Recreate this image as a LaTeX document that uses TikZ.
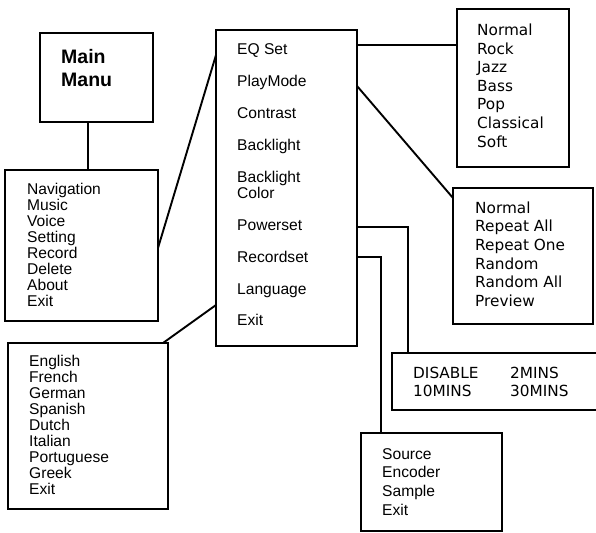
\documentclass[tikz,border=0pt]{standalone}
\usepackage{fontspec}
\setmainfont{Liberation Sans}
\newfontfamily\dvs{DejaVu Sans}
\usetikzlibrary{calc}
\begin{document}
\begin{tikzpicture}[x=1pt,y=-1pt,
  box/.style={draw, line width=1.9pt, rectangle, inner sep=0pt, outer sep=0pt, anchor=north west},
  ar/.style={font=\fontsize{15.6}{16}\selectfont, anchor=base west, inner sep=0pt},
  vd/.style={font=\dvs\fontsize{15.3}{18}\selectfont, anchor=base west, inner sep=0pt},
  wire/.style={line width=1.9pt}]
\useasboundingbox (0,0) rectangle (596,532);
\clip (0,0) rectangle (596,532);

% boxes
\node[box, minimum width=113pt, minimum height=89pt]  (main)     at (40,33)  {};
\node[box, minimum width=153pt, minimum height=151pt] (menu)     at (5,170)  {};
\node[box, minimum width=141pt, minimum height=316pt] (settings) at (216,30) {};
\node[box, minimum width=112pt, minimum height=158pt] (eq)       at (457,9)  {};
\node[box, minimum width=140pt, minimum height=136pt] (play)     at (453,188) {};
\node[box, minimum width=240pt, minimum height=57pt]  (disable)  at (392,353) {};
\node[box, minimum width=141pt, minimum height=98pt]  (source)   at (361,433) {};
\node[box, minimum width=160pt, minimum height=166pt] (language) at (8,343)  {};

% Main Manu
\node[font=\bfseries\fontsize{19.5}{23}\selectfont, anchor=base west, inner sep=0pt] (mt1) at (61,63.3) {Main};
\node[font=\bfseries\fontsize{19.5}{23}\selectfont, anchor=base west, inner sep=0pt] (mt2) at (61,86.7) {Manu};

% main menu items
\foreach \t [count=\i from 0] in {Navigation,Music,Voice,Setting,Record,Delete,About,Exit}
  \node[ar] (mm\i) at (27,194.3+16*\i) {\t};

% settings items
\node[ar] (s1) at (237,54.3) {EQ Set};
\node[ar] (s2) at (237,86.7) {PlayMode};
\node[ar] (s3) at (237,118.5) {Contrast};
\node[ar] (s4) at (237,150.3) {Backlight};
\node[ar] (s5) at (237,182) {Backlight};
\node[ar] (s5b) at (237,198) {Color};
\node[ar] (s6) at (237,230) {Powerset};
\node[ar] (s7) at (237,262) {Recordset};
\node[ar] (s8) at (237,294) {Language};
\node[ar] (s9) at (237,325.7) {Exit};

% EQ list
\foreach \t [count=\i from 0] in {Normal,Rock,Jazz,Bass,Pop,Classical,Soft}
  \node[vd] (eqi\i) at (477,36+18.5*\i) {\t};

% play mode list
\foreach \t [count=\i from 0] in {Normal,Repeat All,Repeat One,Random,Random All,Preview}
  \node[vd] (pm\i) at (475,213.3+18.67*\i) {\t};

% power set
\node[vd] (d1) at (413,378.3) {DISABLE};
\node[vd] (d2) at (510,378.3) {2MINS};
\node[vd] (d3) at (413,396.7) {10MINS};
\node[vd] (d4) at (510,396.7) {30MINS};

% record set
\foreach \t [count=\i from 0] in {Source,Encoder,Sample,Exit}
  \node[ar] (rs\i) at (382,459+18.67*\i) {\t};

% languages
\foreach \t [count=\i from 0] in {English,French,German,Spanish,Dutch,Italian,Portuguese,Greek,Exit}
  \node[ar] (lg\i) at (29,366.7+16*\i) {\t};

% connectors
\coordinate (c88) at (88,0);
\draw[wire] (main.south -| c88) -- (menu.north -| c88);
\draw[wire] ($(menu.north east)+(0,78)$) -- ($(settings.north west)+(0,25)$);
\coordinate (a1) at ($(settings.north east)+(0,15)$);
\draw[wire] (a1) -- (a1 -| eq.west);
\draw[wire] ($(settings.north east)+(0,56)$) -- ($(play.north west)+(0,10)$);
\draw[wire] ($(settings.north east)+(0,197)$) -| ($(disable.north west)+(16,0)$);
\draw[wire] ($(settings.north east)+(0,227)$) -| ($(source.north west)+(20,0)$);
\draw[wire] ($(language.north east)+(-5,0)$) -- ($(settings.south west)+(0,-41)$);
\end{tikzpicture}
\end{document}
